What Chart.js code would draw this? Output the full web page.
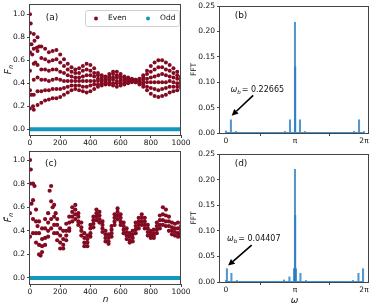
<!DOCTYPE html>
<html><head><meta charset="utf-8">
<script src="https://cdn.jsdelivr.net/npm/chart.js@4/dist/chart.umd.min.js"></script>
<style>
html,body{margin:0;padding:0;background:#fff;}
#wrap{position:relative;width:374px;height:307px;overflow:hidden;background:#fff;}
canvas{position:absolute;}
</style></head><body>
<div id="wrap">
<canvas id="ca" width="190" height="150" style="left:0px;top:0px"></canvas>
<canvas id="cb" width="184" height="150" style="left:190px;top:0px"></canvas>
<canvas id="cc" width="190" height="162" style="left:0px;top:145px"></canvas>
<canvas id="cd" width="184" height="162" style="left:190px;top:145px"></canvas>
</div>
<script>
// ---------- data ----------
const nA = [0,25,50,75,100,125,150,175,200,225,250,275,300,325,350,375,400,425,450,475,500,525,550,575,600,625,650,675,700,725,750,775,800,825,850,875,900,925,950,975,1000];
const evenA0 = [0.18,0.17,0.21,0.23,0.25,0.26,0.27,0.27,0.28,0.30,0.32,0.34,0.35,0.34,0.33,0.32,0.33,0.35,0.37,0.38,0.39,0.39,0.38,0.37,0.38,0.39,0.40,0.41,0.41,0.39,0.37,0.34,0.31,0.29,0.28,0.29,0.30,0.32,0.33,0.34,0.36];
const evenA1 = [0.34,0.30,0.33,0.33,0.34,0.34,0.35,0.35,0.35,0.36,0.37,0.38,0.38,0.38,0.37,0.37,0.38,0.39,0.39,0.40,0.40,0.41,0.40,0.40,0.40,0.40,0.41,0.42,0.41,0.40,0.39,0.37,0.36,0.35,0.34,0.35,0.36,0.37,0.37,0.37,0.38];
const evenA2 = [0.51,0.43,0.45,0.43,0.43,0.42,0.43,0.44,0.43,0.42,0.42,0.42,0.42,0.42,0.42,0.42,0.42,0.42,0.42,0.42,0.42,0.43,0.43,0.42,0.42,0.42,0.42,0.42,0.42,0.41,0.41,0.41,0.41,0.41,0.41,0.41,0.41,0.42,0.41,0.40,0.40];
const evenA3 = [0.67,0.57,0.56,0.52,0.52,0.51,0.52,0.52,0.50,0.49,0.47,0.46,0.45,0.45,0.46,0.47,0.47,0.46,0.44,0.43,0.43,0.44,0.45,0.45,0.44,0.43,0.43,0.43,0.42,0.42,0.43,0.44,0.45,0.46,0.47,0.48,0.47,0.46,0.45,0.44,0.42];
const evenA4 = [0.84,0.70,0.68,0.62,0.61,0.59,0.60,0.61,0.58,0.55,0.52,0.50,0.49,0.49,0.51,0.52,0.51,0.49,0.47,0.45,0.45,0.46,0.48,0.47,0.46,0.45,0.44,0.43,0.43,0.43,0.45,0.48,0.50,0.52,0.54,0.54,0.52,0.51,0.49,0.47,0.44];
const evenA5 = [1.00,0.83,0.80,0.72,0.70,0.67,0.68,0.69,0.65,0.61,0.57,0.54,0.52,0.53,0.55,0.57,0.56,0.53,0.49,0.47,0.46,0.48,0.50,0.50,0.48,0.46,0.45,0.44,0.43,0.44,0.47,0.51,0.55,0.58,0.60,0.60,0.58,0.56,0.53,0.50,0.46];
const extraAn = [5,10,15,30,35,45,60,10,20];
const extraAy = [0.92,0.74,0.65,0.77,0.58,0.71,0.72,0.30,0.20];
const oddA = [0,0,0,0,0,0,0,0,0,0,0,0,0,0,0,0,0,0,0,0,0,0,0,0,0,0,0,0,0,0,0,0,0,0,0,0,0,0,0,0,0];

const nC = [0,20,40,60,80,100,120,140,160,180,200,220,240,260,280,300,320,340,360,380,400,420,440,460,480,500,520,540,560,580,600,620,640,660,680,700,720,740,760,780,800,820,840,860,880,900,920,940,960,980,1000];
const evenC3 = [1.00,0.80,0.58,0.48,0.42,0.50,0.55,0.78,0.62,0.50,0.42,0.40,0.46,0.52,0.60,0.62,0.55,0.47,0.38,0.36,0.45,0.52,0.58,0.56,0.48,0.40,0.37,0.44,0.54,0.59,0.54,0.47,0.42,0.38,0.40,0.47,0.51,0.54,0.51,0.45,0.40,0.41,0.47,0.53,0.60,0.58,0.52,0.47,0.46,0.47,0.44];
const evenC2 = [0.80,0.66,0.48,0.38,0.33,0.42,0.47,0.65,0.52,0.45,0.36,0.33,0.40,0.47,0.56,0.58,0.52,0.43,0.34,0.33,0.42,0.49,0.55,0.53,0.45,0.37,0.34,0.41,0.51,0.56,0.51,0.44,0.39,0.35,0.37,0.44,0.48,0.51,0.48,0.42,0.38,0.38,0.44,0.49,0.54,0.53,0.48,0.43,0.42,0.42,0.40];
const evenC1 = [0.55,0.50,0.38,0.28,0.27,0.34,0.40,0.50,0.45,0.38,0.30,0.28,0.36,0.42,0.52,0.54,0.48,0.40,0.30,0.30,0.38,0.46,0.52,0.50,0.42,0.34,0.31,0.38,0.48,0.53,0.48,0.41,0.36,0.32,0.34,0.41,0.45,0.48,0.45,0.39,0.36,0.36,0.41,0.45,0.49,0.48,0.44,0.40,0.39,0.38,0.37];
const evenC0 = [0.35,0.38,0.30,0.20,0.22,0.28,0.35,0.42,0.38,0.32,0.25,0.25,0.32,0.40,0.48,0.50,0.45,0.36,0.27,0.27,0.35,0.43,0.49,0.47,0.39,0.31,0.29,0.35,0.45,0.50,0.45,0.38,0.33,0.30,0.31,0.38,0.42,0.45,0.42,0.36,0.34,0.34,0.38,0.42,0.45,0.44,0.40,0.37,0.36,0.35,0.35];
const extraCn = [5,10,30,50,70,130,150,170];
const extraCy = [0.92,0.63,0.78,0.44,0.19,0.74,0.60,0.55];
const oddC = [0,0,0,0,0,0,0,0,0,0,0,0,0,0,0,0,0,0,0,0,0,0,0,0,0,0,0,0,0,0,0,0,0,0,0,0,0,0,0,0,0,0,0,0,0,0,0,0,0,0,0];

const omegaB = [0.0,0.227,0.453,2.688,2.915,3.142,3.152,3.369,3.595,5.830,6.056,6.283];
const fftB   = [0.004,0.026,0.003,0.003,0.026,0.218,0.130,0.026,0.003,0.003,0.026,0.003];
const omegaD = [0.0,0.044,0.25,0.50,2.64,2.89,3.098,3.142,3.152,3.186,3.39,3.64,5.78,6.03,6.239];
const fftD   = [0.003,0.026,0.017,0.003,0.004,0.010,0.026,0.220,0.130,0.026,0.017,0.003,0.003,0.017,0.026];
const omegaBase = [0.0,6.283];
const fftBase = [0.0008,0.0008];

const nTicks = [0,200,400,600,800,1000];
const fTicks = [0.0,0.2,0.4,0.6,0.8,1.0];
const fftTicks = [0.00,0.05,0.10,0.15,0.20,0.25];
const wTicks = [0,3.14159265,6.28318531];
const wTickLabels = ['0','π','2π'];

// ---------- styling ----------
const FAM = '"DejaVu Sans", sans-serif';
const EVEN = '#820b22', ODD = '#1497bd', FFTC = '#3a8bcb', AX = '#444', TXT = '#111';

function xAxis(min, max, ticks, height, fmt) {
  return { type:'linear', min, max, offset:false,
    afterBuildTicks: s => { s.ticks = ticks.map(v => ({value:v})); },
    afterFit: s => { s.height = height; s.paddingLeft = 0; s.paddingRight = 0; },
    ticks: { autoSkip:false, maxRotation:0, minRotation:0, padding:1, color:TXT,
             font:{family:FAM, size:7.5}, callback: (v,i) => fmt(v,i) },
    grid: { display:true, drawOnChartArea:false, drawTicks:true, tickLength:3, color:AX, lineWidth:1 },
    border: { display:false } };
}
function yAxis(min, max, ticks, width, fmt) {
  return { type:'linear', min, max,
    afterBuildTicks: s => { s.ticks = ticks.map(v => ({value:v})); },
    afterFit: s => { s.width = width; s.paddingTop = 0; s.paddingBottom = 0; },
    ticks: { autoSkip:false, padding:2, color:TXT, font:{family:FAM, size:7.5}, callback: v => fmt(v) },
    grid: { display:true, drawOnChartArea:false, drawTicks:true, tickLength:3, color:AX, lineWidth:1 },
    border: { display:false } };
}

function subText(ctx, x, y, main, sub, mainFont, subFont, align) {
  ctx.font = mainFont; const w1 = ctx.measureText(main).width;
  ctx.font = subFont; const w2 = ctx.measureText(sub).width;
  let sx = align === 'left' ? x : x - (w1 + w2) / 2;
  ctx.textAlign = 'left'; ctx.textBaseline = 'middle';
  ctx.font = mainFont; ctx.fillText(main, sx, y);
  ctx.font = subFont; ctx.fillText(sub, sx + w1, y + 2.5);
  return sx + w1 + w2;
}

const decor = {
  id: 'decor',
  afterDraw(chart, args, o) {
    const ctx = chart.ctx, a = chart.chartArea;
    const xs = chart.scales.x, ys = chart.scales.y;
    ctx.save();
    ctx.strokeStyle = AX; ctx.lineWidth = 1;
    ctx.strokeRect(Math.round(a.left) - 0.5, Math.round(a.top) + 0.5,
                   Math.round(a.right - a.left), Math.round(a.bottom - a.top));
    ctx.fillStyle = TXT;
    ctx.font = '9px ' + FAM; ctx.textAlign = 'center'; ctx.textBaseline = 'middle';
    ctx.fillText(o.label, a.left + o.lx, a.top + o.ly);
    ctx.save();
    ctx.translate(o.ytx, (a.top + a.bottom) / 2);
    ctx.rotate(-Math.PI / 2);
    if (o.ytSub) {
      subText(ctx, 0, 0, o.yt, o.ytSub, 'italic 9px ' + FAM, 'italic 6.5px ' + FAM, 'center');
    } else {
      ctx.font = '7.5px ' + FAM; ctx.textAlign = 'center'; ctx.textBaseline = 'middle';
      ctx.fillText(o.yt, 0, 0);
    }
    ctx.restore();
    if (o.xt) {
      ctx.font = 'italic 9px ' + FAM; ctx.textAlign = 'center'; ctx.textBaseline = 'middle';
      ctx.fillText(o.xt, (a.left + a.right) / 2, chart.height - o.xtb);
    }
    if (o.legend) {
      const bx = a.left + 55, by = a.top + 6, bw = 94, bh = 16;
      ctx.beginPath(); ctx.roundRect(bx + 0.5, by + 0.5, bw, bh, 2);
      ctx.fillStyle = 'rgba(255,255,255,0.85)'; ctx.fill();
      ctx.strokeStyle = '#d0d0d0'; ctx.stroke();
      const ds = chart.data.datasets;
      const items = [[ds[0], bx + 11, bx + 23], [ds[1], bx + 63, bx + 75]];
      items.forEach(([d, mx, tx]) => {
        ctx.fillStyle = d.backgroundColor;
        ctx.beginPath(); ctx.arc(mx, by + bh / 2 + 0.5, 2, 0, Math.PI * 2); ctx.fill();
        ctx.fillStyle = TXT; ctx.font = '7.5px ' + FAM; ctx.textAlign = 'left'; ctx.textBaseline = 'middle';
        ctx.fillText(d.label, tx, by + bh / 2 + 0.5);
      });
    }
    if (o.ann) {
      const an = o.ann;
      const tx = xs.getPixelForValue(an.tx), ty = ys.getPixelForValue(an.ty);
      ctx.fillStyle = TXT;
      const end = subText(ctx, tx, ty, 'ω', 'b', 'italic 8px ' + FAM, 'italic 5.5px ' + FAM, 'left');
      ctx.font = '8px ' + FAM; ctx.textAlign = 'left'; ctx.textBaseline = 'middle';
      ctx.fillText(an.text, end + 1, ty);
      const sx = xs.getPixelForValue(an.sx), sy = ys.getPixelForValue(an.sy);
      const hx = xs.getPixelForValue(an.hx), hy = ys.getPixelForValue(an.hy);
      const ang = Math.atan2(hy - sy, hx - sx), L = 6.5, W = 3.2;
      const bxp = hx - L * Math.cos(ang), byp = hy - L * Math.sin(ang);
      ctx.strokeStyle = '#000'; ctx.lineWidth = 1.6;
      ctx.beginPath(); ctx.moveTo(sx, sy); ctx.lineTo(bxp, byp); ctx.stroke();
      ctx.fillStyle = '#000'; ctx.beginPath();
      ctx.moveTo(hx, hy);
      ctx.lineTo(bxp + W * Math.sin(ang), byp - W * Math.cos(ang));
      ctx.lineTo(bxp - W * Math.sin(ang), byp + W * Math.cos(ang));
      ctx.closePath(); ctx.fill();
    }
    ctx.restore();
  }
};

const common = { responsive:false, animation:false, devicePixelRatio:1, events:[] };

function pts(xs, ys) { return xs.map((x, i) => ({x, y: ys[i]})); }

// ---------- panel (a) ----------
const evenPtsA = [evenA0, evenA1, evenA2, evenA3, evenA4, evenA5].flatMap(b => pts(nA, b)).concat(pts(extraAn, extraAy));
new Chart(document.getElementById('ca'), {
  type:'scatter',
  data:{ datasets:[
    { label:'Even', data:evenPtsA, backgroundColor:EVEN, borderColor:EVEN, borderWidth:0, pointRadius:2, showLine:false },
    { label:'Odd', data:pts(nA, oddA), backgroundColor:ODD, borderColor:ODD, borderWidth:4, pointRadius:0, showLine:true }
  ]},
  options:{ ...common,
    layout:{ padding:{ left:0, top:2, right:9, bottom:0 } },
    scales:{
      x: xAxis(0, 1000, nTicks, 15, v => String(v)),
      y: yAxis(-0.05, 1.09, fTicks, 30, v => v.toFixed(1))
    },
    plugins:{ legend:{display:false}, tooltip:{enabled:false},
      decor:{ label:'(a)', lx:22, ly:14, ytx:9, yt:'F', ytSub:'n', legend:true } }
  },
  plugins:[decor]
});

// ---------- FFT panels ----------
function fftChart(id, om, ff, padTop, xh, ann, label, xt) {
  new Chart(document.getElementById(id), {
    type:'bar',
    data:{ datasets:[
      { type:'line', data:pts(omegaBase, fftBase), borderColor:FFTC, borderWidth:1, pointRadius:0 },
      { type:'bar', data:pts(om, ff), backgroundColor:'rgba(40,125,195,0.8)', borderWidth:0, barThickness:1.4 }
    ]},
    options:{ ...common,
      layout:{ padding:{ left:0, top:padTop, right:5, bottom:0 } },
      scales:{
        x: xAxis(-0.27, 6.51, wTicks, xh, (v,i) => wTickLabels[i]),
        y: yAxis(0, 0.25, fftTicks, 30, v => v.toFixed(2))
      },
      plugins:{ legend:{display:false}, tooltip:{enabled:false},
        decor:{ label, lx:21, ly:10, ytx:4, yt:'FFT', xt, xtb:6, ann } }
    },
    plugins:[decor]
  });
}
fftChart('cb', omegaB, fftB, 6, 17,
  { text:'= 0.22665', tx:0.21, ty:0.085, sx:1.24, sy:0.074, hx:0.26, hy:0.034 }, '(b)', null);

// ---------- panel (c) ----------
const evenPtsC = [evenC0, evenC1, evenC2, evenC3].flatMap(b => pts(nC, b)).concat(pts(extraCn, extraCy));
new Chart(document.getElementById('cc'), {
  type:'scatter',
  data:{ datasets:[
    { label:'Even', data:evenPtsC, backgroundColor:EVEN, borderColor:EVEN, borderWidth:0, pointRadius:2.1, showLine:false },
    { label:'Odd', data:pts(nC, oddC), backgroundColor:ODD, borderColor:ODD, borderWidth:4, pointRadius:0, showLine:true }
  ]},
  options:{ ...common,
    layout:{ padding:{ left:0, top:6, right:9, bottom:0 } },
    scales:{
      x: xAxis(0, 1000, nTicks, 23, v => String(v)),
      y: yAxis(-0.051, 1.077, fTicks, 30, v => v.toFixed(1))
    },
    plugins:{ legend:{display:false}, tooltip:{enabled:false},
      decor:{ label:'(c)', lx:21, ly:13, ytx:9, yt:'F\u0303', ytSub:'n', xt:'n', xtb:7 } }
  },
  plugins:[decor]
});

// ---------- panel (d) ----------
fftChart('cd', omegaD, fftD, 9, 25,
  { text:'= 0.04407', tx:0.05, ty:0.084, sx:1.17, sy:0.072, hx:0.10, hy:0.032 }, '(d)', 'ω');
</script>
</body></html>
